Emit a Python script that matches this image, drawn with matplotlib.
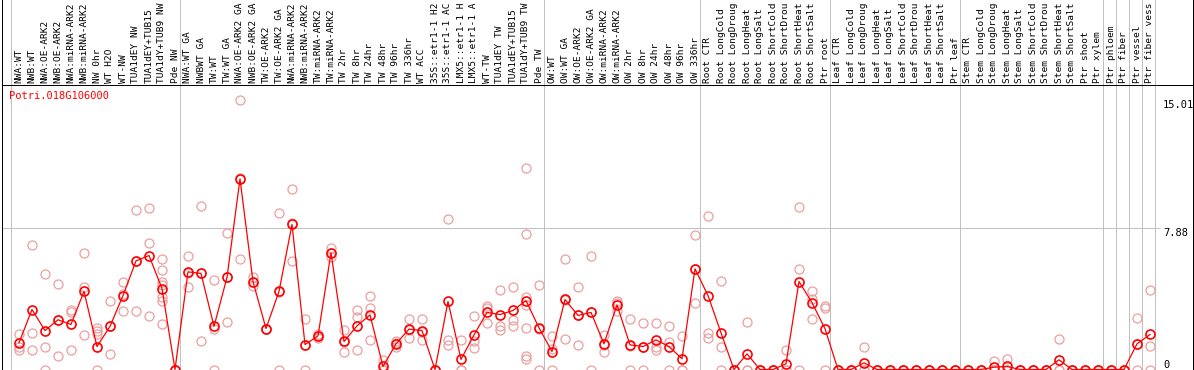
import matplotlib
matplotlib.use("Agg")
import matplotlib.pyplot as plt
import numpy as np

gene = "Potri.018G106000"

# sample names as far as they show in the label strip
labels = ["NWA:WT", "NWB:WT", "NWA:OE-ARK2", "NWB:OE-ARK2", "NWA:miRNA-ARK2", "NWB:miRNA-ARK2",
          "NW 0hr", "WT H2O", "WT-NW", "TUA1dEY NW", "TUA1dEY+TUB15", "TUA1dY+TUB9 NW", "Pde NW",
          "NWA:WT GA", "NWBWT GA", "TW:WT", "TW:WT GA", "NWA:OE-ARK2 GA", "NWB:OE-ARK2 GA",
          "TW:OE-ARK2", "TW:OE-ARK2 GA", "NWA:miRNA-ARK2", "NWB:miRNA-ARK2", "TW:miRNA-ARK2",
          "TW:miRNA-ARK2", "TW 2hr", "TW 8hr", "TW 24hr", "TW 48hr", "TW 96hr", "TW 336hr", "WT ACC",
          "35S::etr1-1 H2", "35S::etr1-1 AC", "LMX5::etr1-1 H", "LMX5::etr1-1 A", "WT-TW",
          "TUA1dEY TW", "TUA1dEY+TUB15", "TUA1dY+TUB9 TW", "Pde TW",
          "OW:WT", "OW:WT GA", "OW:OE-ARK2", "OW:OE-ARK2 GA", "OW:miRNA-ARK2", "OW:miRNA-ARK2",
          "OW 2hr", "OW 8hr", "OW 24hr", "OW 48hr", "OW 96hr", "OW 336hr",
          "Root CTR", "Root LongCold", "Root LongDroug", "Root LongHeat", "Root LongSalt",
          "Root ShortCold", "Root ShortDrou", "Root ShortHeat", "Root ShortSalt", "Ptr root",
          "Leaf CTR", "Leaf LongCold", "Leaf LongDroug", "Leaf LongHeat", "Leaf LongSalt",
          "Leaf ShortCold", "Leaf ShortDrou", "Leaf ShortHeat", "Leaf ShortSalt", "Ptr leaf",
          "Stem CTR", "Stem LongCold", "Stem LongDroug", "Stem LongHeat", "Stem LongSalt",
          "Stem ShortCold", "Stem ShortDrou", "Stem ShortHeat", "Stem ShortSalt", "Ptr shoot",
          "Ptr xylem", "Ptr phloem", "Ptr fiber", "Ptr vessel", "Ptr fiber vess"]

group_sizes = [13, 28, 12, 10, 10, 11, 1, 1, 1, 1]

mean_vals = [1.49, 3.34, 2.17, 2.77, 2.51, 4.35, 1.28, 2.40, 4.12, 6.05, 6.35, 4.51, 0,
             5.44, 5.35, 2.40, 5.13, 10.62, 4.90, 2.28, 4.35, 8.08, 1.39, 1.87, 6.50, 1.56,
             2.43, 3.04, 0.17, 1.43, 2.25, 2.17, 0, 3.79, 0.56, 1.93, 3.18, 3.06, 3.29, 3.84, 2.32,
             1.00, 3.90, 3.01, 3.18, 1.43, 3.60, 1.37, 1.28, 1.65, 1.28, 0.60, 5.61,
             4.12, 2.04, 0, 0.87, 0, 0, 0.32, 4.90, 3.73, 2.27,
             0, 0, 0.37, 0, 0, 0, 0, 0, 0, 0,
             0, 0, 0.13, 0.17, 0, 0, 0, 0.54, 0, 0, 0,
             0, 0, 1.43, 1.95]

rep_vals = [[1.95, 1.28, 1.10], [6.91, 2.04, 1.10], [5.33, 1.28, 0], [4.77, 2.77, 0.76],
            [3.29, 3.19, 1.10], [6.50, 4.59, 1.93], [2.32, 2.17, 1.95, 0], [3.84, 2.40, 0.87],
            [4.90, 4.19, 3.27], [8.86, 6.02, 3.27], [9.02, 7.02, 2.99],
            [6.13, 5.55, 4.86, 4.68, 4.03, 3.84, 2.51], [0, 0, 0],
            [6.30, 5.40, 4.62], [9.12, 5.37, 1.56], [4.96, 2.27, 0], [7.62, 5.15, 2.62],
            [15.01, 10.65, 6.13], [5.14, 4.90, 4.66], [2.28, 2.28, 2.28], [8.73, 4.32, 0],
            [10.03, 8.14, 6.07], [2.79, 1.38, 0], [1.99, 1.85, 1.77], [6.76, 6.48, 6.26],
            [2.21, 1.52, 0.95], [3.34, 2.92, 1.11], [4.07, 3.45, 1.62], [0.54, 0, 0],
            [1.58, 1.47, 1.24], [2.79, 2.20, 1.77], [2.82, 2.07, 1.62], [0, 0, 0],
            [8.41, 1.62, 1.39], [1.67, 0, 0], [2.99, 1.60, 1.21], [3.53, 3.41, 2.60],
            [4.44, 2.45, 2.21], [4.62, 2.77, 2.43], [11.2, 7.56, 4.03, 3.57, 2.32, 0.74, 0.60],
            [4.68, 2.28, 0],
            [1.86, 1.14, 0], [6.13, 3.86, 1.71], [4.62, 3.02, 1.39], [6.33, 3.21, 0],
            [1.93, 1.36, 1.00], [3.84, 3.70, 3.26], [2.79, 1.32, 0], [2.58, 1.26, 0],
            [2.58, 1.28, 1.10], [2.45, 1.52, 0], [1.84, 0, 0], [7.52, 5.58, 3.73],
            [8.56, 2.02, 1.77], [4.94, 1.28, 0], [0, 0, 0], [2.67, 0, 0], [0, 0, 0], [0, 0, 0],
            [1.06, 0, 0], [9.06, 5.61, 0], [4.40, 3.92, 2.82], [3.55, 3.42, 0],
            [0, 0, 0], [0, 0, 0], [1.23, 0, 0], [0, 0, 0], [0, 0, 0], [0, 0, 0], [0, 0, 0],
            [0, 0, 0], [0, 0, 0], [0, 0, 0],
            [0, 0, 0], [0, 0, 0], [0.45, 0, 0], [0.61, 0, 0], [0, 0, 0], [0, 0, 0], [0, 0, 0],
            [1.71, 0, 0], [0, 0, 0], [0, 0, 0], [0, 0, 0],
            [0, 0, 0], [0, 0, 0], [2.88, 1.41, 0], [4.44, 1.30, 0]]

ytick_vals = [15.01, 7.88, 0]

# pixel layout of the picture
W, H = 1194, 370
col0, step = 19, 13          # x of first column, column spacing
px_unit = 17.95              # pixels per unit of expression
div_y = 85                   # line between labels and plot
left_px, right_px = 1.5, 1192.5
px = 0.72                    # one pixel in points
mono = "DejaVu Sans Mono"
grey = "#c0c0c0"

def fx(p):
    return (p - col0) / step

fig = plt.figure(figsize=(W / 100, H / 100), dpi=100)
ax = fig.add_axes([left_px / W, 0, (right_px - left_px) / W, (H - div_y) / H])
lab = fig.add_axes([left_px / W, (H - div_y) / H, (right_px - left_px) / W, div_y / H])

for a in (ax, lab):
    a.set_xlim(fx(left_px), fx(right_px))
    a.set_xticks([])
    a.set_yticks([])
    for s in a.spines.values():
        s.set_color("black")
        s.set_linewidth(px)
ax.set_ylim(-0.5 / px_unit, (H - 0.5 - div_y) / px_unit)
ax.spines["bottom"].set_position(("data", 0))
lab.set_ylim(0, 1)
lab.spines["top"].set_visible(False)
lab.spines["bottom"].set_visible(False)

# group separators
bounds = np.cumsum([0] + group_sizes) - 0.6
for b in bounds:
    ax.axvline(b, color=grey, lw=px, zorder=0)
    lab.axvline(b, color=grey, lw=px, zorder=0)

# sample labels
for i, t in enumerate(labels):
    lab.text(i, 2 / div_y, t, rotation=90, rotation_mode="anchor", ha="left", va="center",
             fontsize=6.8, family=mono, color="black")

# right-hand scale
ax.hlines(ytick_vals[1], fx(left_px), fx(1160), color=grey, lw=px, zorder=0)
for v in ytick_vals:
    ax.text(fx(1163), v, "%g" % v if v != 0 else "0", va="top" if v > 0 else "bottom",
            ha="left", fontsize=7.5, family=mono, color="black")

x = np.arange(len(mean_vals))
rx = [i for i, r in enumerate(rep_vals) for _ in r]
ry = [v for r in rep_vals for v in r]
ax.plot(rx, ry, "o", ls="none", mfc="none", mec="#eb9f9f", ms=6.5, mew=0.9, zorder=2)
ax.plot(x, mean_vals, "-o", color="red", mfc="none", mec="red", ms=6.5, mew=1.2, lw=0.9, zorder=3)

fig.text(9 / W, 1 - 91 / H, gene, color="red", fontsize=7.5, family=mono, va="top", ha="left")

fig.savefig("out.png", dpi=100)
